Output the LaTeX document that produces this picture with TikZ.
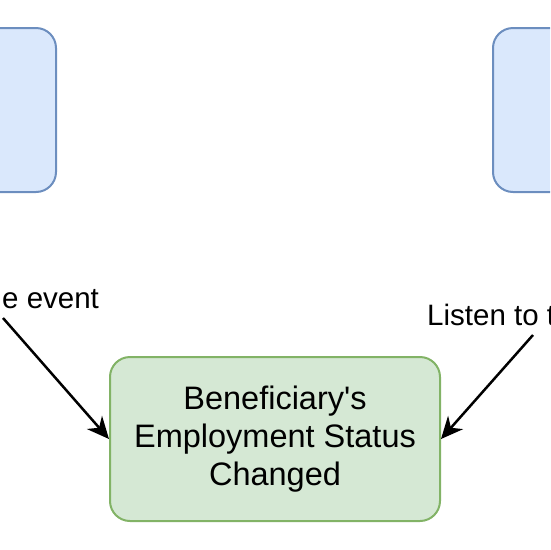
\documentclass[tikz,border=0pt]{standalone}
\usepackage{fontspec}
\setmainfont{Liberation Sans}
\usetikzlibrary{arrows.meta}

\definecolor{bluefill}{HTML}{DAE8FC}
\definecolor{blueline}{HTML}{6C8EBF}
\definecolor{greenfill}{HTML}{D5E8D4}
\definecolor{greenline}{HTML}{82B366}

\begin{document}
\begin{tikzpicture}[
        x=1pt, y=-1pt,
        service box/.style={draw=blueline, fill=bluefill, line width=2pt, rounded corners=20pt, minimum width=180pt, minimum height=164pt},
        event box/.style={draw=greenline, fill=greenfill, line width=2pt, rounded corners=20pt, minimum width=330pt, minimum height=164pt, align=center, font=\fontsize{32.5}{38}\selectfont},
        edge label/.style={anchor=base west, inner sep=0pt, font=\fontsize{29.5}{34}\selectfont},
        flow/.style={line width=2.5pt, -{Stealth[length=22pt, width=20pt, inset=7pt]}},
    ]

    % Sichtbarer Ausschnitt
    \useasboundingbox (0,0) rectangle (550,550);
    \clip (0,0) rectangle (550,550);

    % Dienste links und rechts (abgeschnitten)
    \node[service box] (publisher) at (-34,110) {};
    \node[service box] (listener) at (583,110) {};

    % Ereignis
    \node[event box] (event) at (275,439) {Beneficiary\textquotesingle s\\Employment Status\\Changed};

    % Beschriftungen der Pfeile
    \node[edge label] (publish label) at (2,308) {e event};
    \node[edge label] (listen label) at (427,325) {Listen to t};

    % Pfeile
    \coordinate (publish start) at (3,318);
    \coordinate (listen start) at (533,335);
    \draw[flow] (publish start) -- (event.west);
    \draw[flow] (listen start) -- (event.east);

\end{tikzpicture}
\end{document}
